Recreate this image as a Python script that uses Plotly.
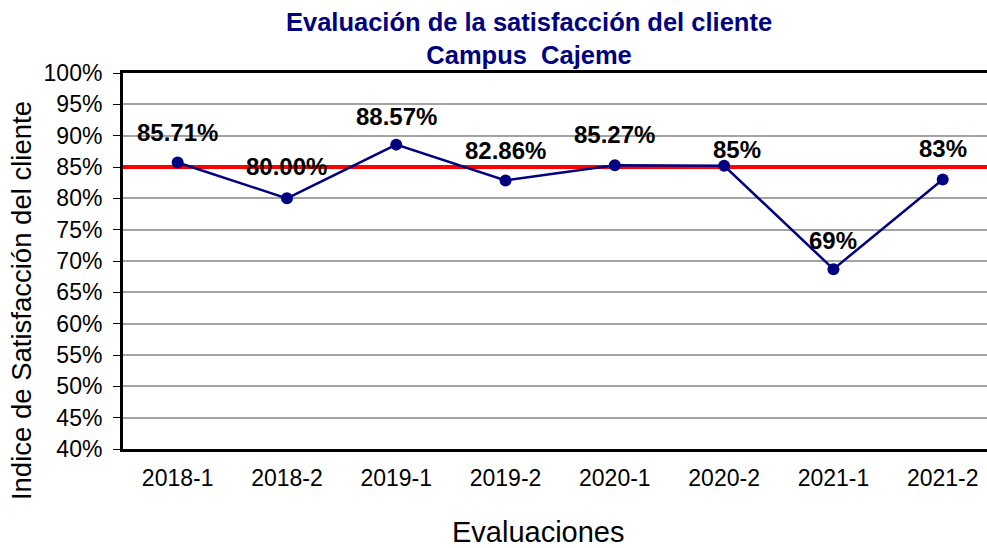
import plotly.graph_objects as go

categories = ["2018-1", "2018-2", "2019-1", "2019-2", "2020-1", "2020-2", "2021-1", "2021-2"]
values = [0.8571, 0.8000, 0.8857, 0.8286, 0.8527, 0.852, 0.687, 0.83]
value_labels = ["85.71%", "80.00%", "88.57%", "82.86%", "85.27%", "85%", "69%", "83%"]
target = 0.85

NAVY = "#000080"
FONT = "Liberation Sans, Arial, sans-serif"

idx = list(range(len(categories)))

fig = go.Figure()
# target line spanning the full category band
fig.add_trace(go.Scatter(
    x=[idx[0] - 0.5, idx[-1] + 0.5], y=[target, target], mode="lines",
    line=dict(color="#ff0000", width=4), hoverinfo="skip", showlegend=False,
))
fig.add_trace(go.Scatter(
    x=idx, y=values, mode="lines+markers",
    line=dict(color=NAVY, width=2.5),
    marker=dict(color=NAVY, size=12),
    hoverinfo="skip", showlegend=False,
))

label_dx = [0, 0, 0, 0, 0, 13, 0, 0]
label_dy = [30, 32, 28, 30, 31, 16, 29, 31]
for i, v, t, dx, dy in zip(idx, values, value_labels, label_dx, label_dy):
    fig.add_annotation(x=i, y=v, text=t, showarrow=False, xshift=dx, yshift=dy,
                       font=dict(family=FONT, size=24, color="black", weight="bold"))

# axis titles (placed as in the reference, not centred on the plot)
fig.add_annotation(text="Indice de Satisfacción del cliente", textangle=-90,
                   xref="paper", yref="paper", x=-0.1181, y=0.396,
                   xanchor="center", yanchor="middle", showarrow=False,
                   font=dict(family=FONT, size=27.5, color="black"))
fig.add_annotation(text="Evaluaciones",
                   xref="paper", yref="paper", x=0.481, y=-0.222,
                   xanchor="center", yanchor="middle", showarrow=False,
                   font=dict(family=FONT, size=29, color="black"))

fig.update_layout(
    width=987, height=548,
    margin=dict(l=123, r=0, t=73, b=99),
    paper_bgcolor="white", plot_bgcolor="white",
    title=dict(text="Evaluación de la satisfacción del cliente<br>Campus\u00a0 Cajeme",
               x=0.536, xanchor="center", y=0.944, yanchor="top",
               font=dict(family=FONT, size=25.5, color=NAVY, weight="bold")),
    xaxis=dict(
        range=[-0.5, 7.405], automargin=False,
        tickmode="array", tickvals=idx, ticktext=categories,
        showline=True, linecolor="black", linewidth=3, mirror=True,
        showgrid=False, zeroline=False, ticks="", ticklabelstandoff=6,
        tickfont=dict(family=FONT, size=23, color="black"),
        fixedrange=True,
    ),
    yaxis=dict(
        range=[0.40, 1.00], dtick=0.05, tickformat=".0%", automargin=False,
        showline=True, linecolor="black", linewidth=3, mirror=False,
        showgrid=True, gridcolor="#a3a3a3", gridwidth=2,
        ticks="outside", ticklen=7, tickcolor="black", tickwidth=1,
        ticklabelstandoff=6,
        tickfont=dict(family=FONT, size=23, color="black"),
        zeroline=False, fixedrange=True,
    ),
)

fig.write_html("out.html", post_script="document.body.style.margin='0';",
               config={"displayModeBar": False})
